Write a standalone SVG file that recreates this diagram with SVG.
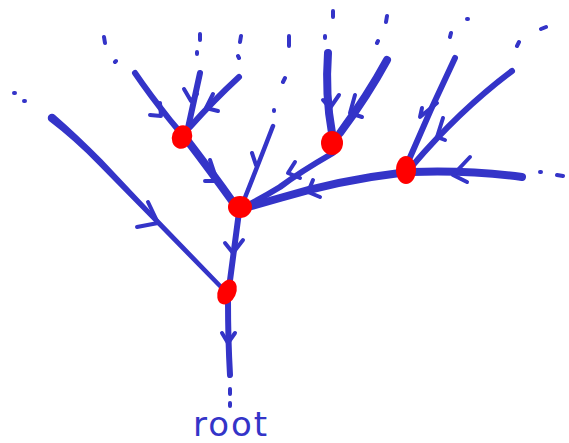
<svg xmlns="http://www.w3.org/2000/svg" width="569" height="443" viewBox="0 0 569 443">
<style>
.e{fill:none;stroke:#3434c8;stroke-linecap:round;stroke-linejoin:round;stroke-width:6}
.t{stroke-width:4.5}
.k{stroke-width:8}
.h{fill:none;stroke:#3434c8;stroke-linecap:round;stroke-linejoin:round;stroke-width:4}
.d{fill:none;stroke:#3434c8;stroke-linecap:round;stroke-width:4}
.f{fill:#3434c8}
.n{fill:#ff0000}
.lbl{font-family:"DejaVu Sans",sans-serif;font-size:34px;fill:#3434c8;font-weight:normal}
</style>
<rect width="569" height="443" fill="#ffffff"/>
<g id="connectors">
  <!-- long left branch into C (tapered) -->
  <path class="f" d="M49,121 Q74,140 97.8,164.4 L148.1,215.8 L220.4,289.5 A2.2,2.2 0 0 0 223.6,286.5 L151.9,212.2 L102.2,159.6 Q78,135 55,115 A4,4 0 0 0 49,121 Z"/>
  <polyline class="h" points="148,202 158,223 137,227"/>
  <!-- B to C -->
  <path class="e" d="M239,212 Q234,250 229,288"/>
  <polyline class="h" points="225,243 233,253 243,240"/>
  <!-- C down to root -->
  <path class="e" d="M228,300 Q228,340 230,375"/>
  <polyline class="h" points="222,333 228,343 235,333"/>
  <!-- A to B -->
  <path class="e k" d="M187,140 Q210,170 235,205"/>
  <polyline class="h" points="210,160 217,181 205,181"/>
  <!-- into A -->
  <path class="e" d="M135,73 Q150,95 170,120 L180,132"/>
  <polyline class="h" points="160,103 161,116 150,115"/>
  <path class="e" d="M200,73 Q194,100 188,128"/>
  <polyline class="h" points="184,89 191,101 197,94"/>
  <path class="e" d="M239,77 Q214,100 190,127"/>
  <polyline class="h" points="213,94 206,108 218,111"/>
  <!-- into B from top -->
  <path class="e t" d="M273,126 Q258,165 244,200"/>
  <polyline class="h" points="252,153 256,165"/>
  <!-- D to B -->
  <path class="e" d="M333,153 Q300,172 280,187 Q262,198 246,206"/>
  <polyline class="h" points="295,162 288,173 300,178"/>
  <!-- E to B -->
  <path class="e k" d="M400,173 Q340,180 280,198 Q262,203 248,207"/>
  <polyline class="h" points="313,180 308,192 320,197"/>
  <!-- right into E -->
  <path class="e k" d="M522,177 Q470,170 412,172"/>
  <polyline class="h" points="470,157 453,175 467,182"/>
  <!-- into D -->
  <path class="e k" d="M328,53 Q325,95 332,133"/>
  <polyline class="h" points="323,100 330,108 339,95"/>
  <path class="e k" d="M387,60 Q368,95 340,133"/>
  <polyline class="h" points="355,95 350,113 362,117"/>
  <!-- into E -->
  <path class="e" d="M455,58 Q430,110 408,162"/>
  <polyline class="h" points="422,108 420,117 437,103"/>
  <path class="e" d="M512,71 Q460,110 413,165"/>
  <polyline class="h" points="443,118 437,137 445,140"/>
  <!-- dots -->
  <path class="d" d="M230,389 L230,394 M230,403 L230,406"/>
  <path class="d" d="M104,37 L105,43 M116,61 L115,62 M200,34 L200,40 M197,52 L197,54 M241,36 L240,42 M238,56 L239,58 M289,36 L289,46 M333,11 L333,17 M325,36 L325,38 M387,16 L386,22 M378,41 L377,43 M467,19 L468,19 M451,33 L450,37 M541,29 L546,27 M519,42 L517,46 M285,78 L283,82 M274,110 L274,111 M14,93 L15,93 M24,101 L25,101 M540,172 L541,172 M557,175 L563,176"/>
</g>
<g id="nodeA"><ellipse class="n" cx="182" cy="137" rx="10" ry="12" transform="rotate(20 182 137)"/></g>
<g id="nodeB"><ellipse class="n" cx="240" cy="207" rx="12" ry="11"/></g>
<g id="nodeC"><ellipse class="n" cx="227" cy="292" rx="9" ry="13" transform="rotate(25 227 292)"/></g>
<g id="nodeD"><ellipse class="n" cx="332" cy="143" rx="11" ry="12"/></g>
<g id="nodeE"><ellipse class="n" cx="406" cy="170" rx="10" ry="14"/></g>
<g id="root"><text class="lbl" x="230" y="436" text-anchor="middle" textLength="74">root</text></g>
</svg>
